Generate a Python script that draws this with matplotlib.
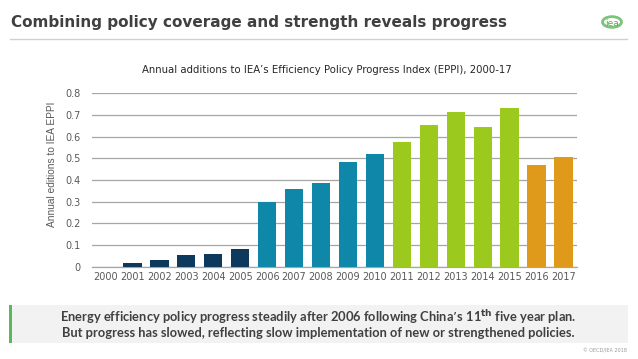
import matplotlib
matplotlib.use("Agg")
import matplotlib.pyplot as plt
from matplotlib.patches import Rectangle, Circle
from matplotlib.lines import Line2D

years = ["2000", "2001", "2002", "2003", "2004", "2005", "2006", "2007", "2008",
         "2009", "2010", "2011", "2012", "2013", "2014", "2015", "2016", "2017"]
values = [0.0, 0.015, 0.03, 0.052, 0.058, 0.08, 0.30, 0.357, 0.385,
          0.482, 0.521, 0.574, 0.654, 0.715, 0.645, 0.731, 0.469, 0.508]
groups = ["navy"] * 6 + ["teal"] * 5 + ["green"] * 5 + ["orange"] * 2
palette = {"navy": "#0d3a5c", "teal": "#0e87a8", "green": "#9bc91e", "orange": "#e09a1b"}
yticks = [0, 0.1, 0.2, 0.3, 0.4, 0.5, 0.6, 0.7, 0.8]
ytick_labels = ["0", "0.1", "0.2", "0.3", "0.4", "0.5", "0.6", "0.7", "0.8"]

W, H = 638, 359
fig = plt.figure(figsize=(W / 100, H / 100), dpi=100)
fig.patch.set_facecolor("white")

def fx(px):
    return px / W

def fy(py):
    return 1 - py / H

# Title
fig.text(fx(11), fy(23), "Combining policy coverage and strength reveals progress",
         fontsize=11.0, fontweight="bold", color="#404040", family="DejaVu Sans",
         ha="left", va="center")
fig.add_artist(Line2D([fx(10), fx(627)], [fy(39), fy(39)], color="#d0d0d0", lw=1.0))

# IEA logo
fig.add_artist(Circle((fx(612), fy(22)), 9.5 / W, transform=fig.transFigure,
                      fill=False, ec="#7cc47a", lw=2.0))
fig.text(fx(612), fy(23), "iea", fontsize=6.5, color="#5aa85a", ha="center", va="center")

# Chart subtitle
fig.text(fx(327), fy(70), "Annual additions to IEA\u2019s Efficiency Policy Progress Index (EPPI), 2000-17",
         fontsize=7.3, color="#262626", ha="center", va="center")

# Axes
ax = fig.add_axes([fx(92), fy(266.7), fx(577) - fx(92), fy(93.3) - fy(266.7)])
x = list(range(len(years)))
ax.bar(x, values, width=0.68, color=[palette[g] for g in groups], zorder=3)
ax.set_xlim(-0.5, len(years) - 0.5)
ax.set_ylim(0, 0.8)
ax.set_yticks(yticks)
ax.set_yticklabels(ytick_labels)
ax.set_xticks(x)
ax.set_xticklabels(years)
ax.grid(axis="y", color="#a6a6a6", lw=0.9, zorder=0)
for s in ["top", "right", "left"]:
    ax.spines[s].set_visible(False)
ax.spines["bottom"].set_color("#a6a6a6")
ax.spines["bottom"].set_linewidth(0.9)
ax.tick_params(axis="both", length=0, labelsize=7, labelcolor="#595959")
ax.tick_params(axis="y", pad=8)
ax.tick_params(axis="x", pad=4)
ax.set_ylabel("Annual editions to IEA EPPI", fontsize=7.3, color="#595959",
              family="Liberation Sans", va="center")
ax.yaxis.set_label_coords(-0.082, 0.59)

# Bottom message box
fig.add_artist(Rectangle((fx(9), fy(343)), fx(628) - fx(9), (343 - 305) / H,
                         transform=fig.transFigure, fc="#f2f2f2", ec="none"))
fig.add_artist(Rectangle((fx(9), fy(343)), 3 / W, (343 - 305) / H,
                         transform=fig.transFigure, fc="#5cb85c", ec="none"))
fig.text(fx(318), fy(317),
         "Energy efficiency policy progress steadily after 2006 following China\u2019s 11$^{\\mathbf{th}}$ five year plan.",
         fontsize=9.3, fontweight="bold", color="#404040", family="Lato", ha="center", va="center")
fig.text(fx(318), fy(333),
         "But progress has slowed, reflecting slow implementation of new or strengthened policies.",
         fontsize=9.3, fontweight="bold", color="#404040", family="Lato", ha="center", va="center")

fig.text(fx(627), fy(351), "\u00a9 OECD/IEA 2018", fontsize=3.5, color="#999999",
         ha="right", va="center")

fig.savefig("out.png", dpi=100)
